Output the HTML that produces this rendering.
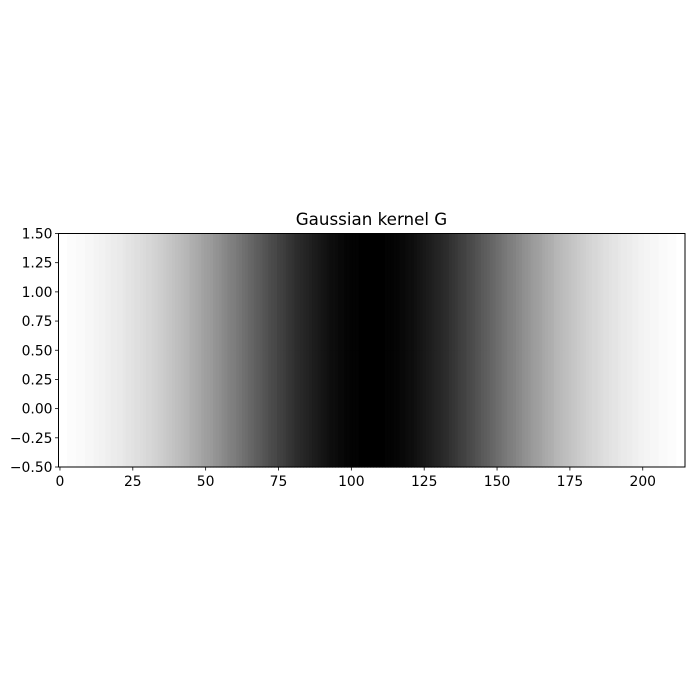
<!DOCTYPE html>
<html>
<head>
<meta charset="utf-8">
<style>
  html,body{margin:0;padding:0;background:#fff;}
  svg{display:block;font-family:"DejaVu Sans","Liberation Sans",sans-serif;}
</style>
</head>
<body>
<svg id="chart" width="700" height="700" viewBox="0 0 700 700">
  <rect x="0" y="0" width="700" height="700" fill="#fff"/>
  <text x="371.5" y="225" text-anchor="middle" font-size="16.7" fill="#000">Gaussian kernel G</text>
  <g id="cells"></g>
  <g id="xaxis"></g>
  <g id="yaxis"></g>
  <rect x="58.5" y="233.5" width="626.5" height="233.5" fill="none" stroke="#000" stroke-width="1"/>
</svg>
<script>
const kernel = [.04,.04,.04,.05,.05,.05,.06,.06,.06,.07,.07,.07,.08,.08,.09,.09,.10,.10,.11,.11,.12,.12,.13,.14,.14,.15,.16,.16,.17,.18,.19,.19,.20,.21,.22,.23,.24,.25,.26,.27,.28,.29,.30,.31,.32,.34,.35,.36,.37,.39,.40,.41,.42,.44,.45,.46,.48,.49,.51,.52,.53,.55,.56,.58,.59,.61,.62,.64,.65,.66,.68,.69,.71,.72,.73,.75,.76,.77,.79,.80,.81,.83,.84,.85,.86,.87,.88,.89,.90,.91,.92,.93,.94,.95,.95,.96,.97,.97,.98,.98,.99,.99,.99,1.00,1.00,1.00,1.00,
1.00,
1.00,1.00,1.00,1.00,.99,.99,.99,.98,.98,.97,.97,.96,.95,.95,.94,.93,.92,.91,.90,.89,.88,.87,.86,.85,.84,.83,.81,.80,.79,.77,.76,.75,.73,.72,.71,.69,.68,.66,.65,.64,.62,.61,.59,.58,.56,.55,.53,.52,.51,.49,.48,.46,.45,.44,.42,.41,.40,.39,.37,.36,.35,.34,.32,.31,.30,.29,.28,.27,.26,.25,.24,.23,.22,.21,.20,.19,.19,.18,.17,.16,.16,.15,.14,.14,.13,.12,.12,.11,.11,.10,.10,.09,.09,.08,.08,.07,.07,.07,.06,.06,.06,.05,.05,.05,.04,.04,.04];
const rowValues = [0, 1];
const xTicks = [0, 25, 50, 75, 100, 125, 150, 175, 200];
const yTicks = [-0.5, -0.25, 0, 0.25, 0.5, 0.75, 1.0, 1.25, 1.5];
const yTickLabels = ["\u22120.50","\u22120.25","0.00","0.25","0.50","0.75","1.00","1.25","1.50"];

const NS = "http://www.w3.org/2000/svg";
const L = 58.5, R = 685, T = 233.5, B = 467;
const xMin = -0.5, xMax = 214.5, yMin = -0.5, yMax = 1.5;
function xs(v){ return L + (v - xMin) / (xMax - xMin) * (R - L); }
function ys(v){ return B - (v - yMin) / (yMax - yMin) * (B - T); }

const kMin = Math.min(...kernel), kMax = Math.max(...kernel);
const cells = document.getElementById('cells');
rowValues.forEach(function(r){
  kernel.forEach(function(v, i){
    const rect = document.createElementNS(NS, 'rect');
    
    
    const x0 = xs(i - 0.5), x1 = xs(i + 0.5);
    const y0 = ys(r + 0.5), y1 = ys(r - 0.5);
    rect.setAttribute('x', x0);
    rect.setAttribute('y', y0);
    rect.setAttribute('width', x1 - x0 + 0.6);
    rect.setAttribute('height', y1 - y0 + 0.6);
    const g = Math.round(255 * (1 - (v - kMin) / (kMax - kMin)));
    rect.setAttribute('fill', 'rgb(' + g + ',' + g + ',' + g + ')');
    cells.appendChild(rect);
  });
});

const xaxis = document.getElementById('xaxis');
xTicks.forEach(function(t){
  const x = xs(t);
  const ln = document.createElementNS(NS, 'line');
  
  
  ln.setAttribute('x1', x); ln.setAttribute('x2', x);
  ln.setAttribute('y1', B); ln.setAttribute('y2', B + 3.5);
  ln.setAttribute('stroke', '#000'); ln.setAttribute('stroke-width', '0.8');
  xaxis.appendChild(ln);
  const tx = document.createElementNS(NS, 'text');
  
  
  tx.setAttribute('x', x); tx.setAttribute('y', B + 19);
  tx.setAttribute('text-anchor', 'middle');
  tx.setAttribute('font-size', '13.9');
  tx.textContent = String(t);
  xaxis.appendChild(tx);
});

const yaxis = document.getElementById('yaxis');
yTicks.forEach(function(t, i){
  const y = ys(t);
  const ln = document.createElementNS(NS, 'line');
  
  
  ln.setAttribute('x1', L - 3.5); ln.setAttribute('x2', L);
  ln.setAttribute('y1', y); ln.setAttribute('y2', y);
  ln.setAttribute('stroke', '#000'); ln.setAttribute('stroke-width', '0.8');
  yaxis.appendChild(ln);
  const tx = document.createElementNS(NS, 'text');
  
  
  tx.setAttribute('x', L - 6); tx.setAttribute('y', y + 5);
  tx.setAttribute('text-anchor', 'end');
  tx.setAttribute('font-size', '13.9');
  tx.textContent = yTickLabels[i];
  yaxis.appendChild(tx);
});
</script>
</body>
</html>
